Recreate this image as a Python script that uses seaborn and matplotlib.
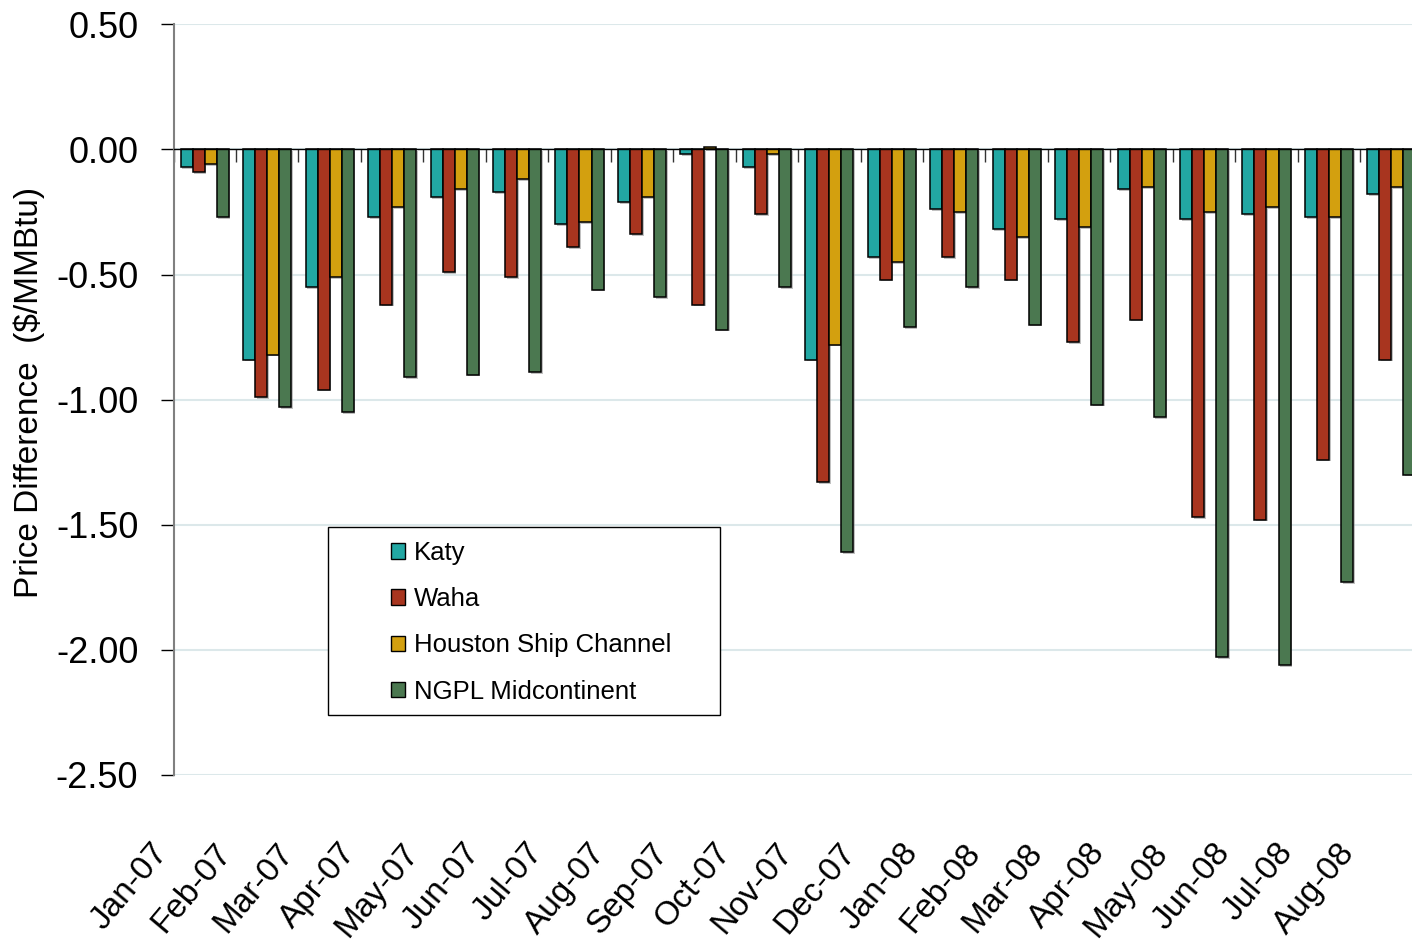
import matplotlib
matplotlib.use("Agg")
import matplotlib.pyplot as plt
import matplotlib.patheffects as pe
import matplotlib.transforms as mtransforms
from matplotlib.patches import Patch, Rectangle
import pandas as pd
import seaborn as sns

sns.set_style("white")
plt.rcParams['font.family'] = ['Liberation Sans', 'DejaVu Sans']
plt.rcParams['axes.unicode_minus'] = False
plt.rcParams['text.color'] = 'black'
plt.rcParams['axes.labelcolor'] = 'black'
plt.rcParams['xtick.labelcolor'] = 'black'
plt.rcParams['ytick.labelcolor'] = 'black'

# data ($/MMBtu, difference vs. Henry Hub)
months = ["Jan-07", "Feb-07", "Mar-07", "Apr-07", "May-07", "Jun-07", "Jul-07",
          "Aug-07", "Sep-07", "Oct-07", "Nov-07", "Dec-07", "Jan-08", "Feb-08",
          "Mar-08", "Apr-08", "May-08", "Jun-08", "Jul-08", "Aug-08"]
hubs = ["Katy", "Waha", "Houston Ship Channel", "NGPL Midcontinent"]

katy = [-0.07, -0.84, -0.55, -0.27, -0.19, -0.17, -0.30, -0.21, -0.02, -0.07,
        -0.84, -0.43, -0.24, -0.32, -0.28, -0.16, -0.28, -0.26, -0.27, -0.18]
waha = [-0.09, -0.99, -0.96, -0.62, -0.49, -0.51, -0.39, -0.34, -0.62, -0.26,
        -1.33, -0.52, -0.43, -0.52, -0.77, -0.68, -1.47, -1.48, -1.24, -0.84]
hsc = [-0.06, -0.82, -0.51, -0.23, -0.16, -0.12, -0.29, -0.19, 0.01, -0.02,
       -0.78, -0.45, -0.25, -0.35, -0.31, -0.15, -0.25, -0.23, -0.27, -0.15]
ngpl = [-0.27, -1.03, -1.05, -0.91, -0.90, -0.89, -0.56, -0.59, -0.72, -0.55,
        -1.61, -0.71, -0.55, -0.70, -1.02, -1.07, -2.03, -2.06, -1.73, -1.30]

yticks = [0.5, 0.0, -0.5, -1.0, -1.5, -2.0, -2.5]
ytick_labels = ["0.50", "0.00", "-0.50", "-1.00", "-1.50", "-2.00", "-2.50"]

colors = {"Katy": "#22a7a3", "Waha": "#a8351f",
          "Houston Ship Channel": "#d3a00f", "NGPL Midcontinent": "#4b7850"}

df = pd.DataFrame({
    "month": months * 4,
    "hub": [h for h in hubs for _ in months],
    "diff": katy + waha + hsc + ngpl,
})

fig = plt.figure(figsize=(14.12, 9.46), dpi=100)
ax = fig.add_axes([0.1229, 0.1808, 0.8771, 0.7935])

sns.barplot(data=df, x="month", y="diff", hue="hub", order=months, hue_order=hubs,
            palette=colors, width=0.77, saturation=1, edgecolor="black",
            linewidth=1.1, errorbar=None, legend=False, ax=ax)

shadow = [pe.SimplePatchShadow(offset=(1.2, -1.2), shadow_rgbFace="#999999", alpha=0.6),
          pe.Normal()]
for bar in ax.patches:
    bar.set_path_effects(shadow)

ax.set_xlim(-0.5, 19.33)
ax.set_ylim(-2.5, 0.5)

# y axis
ax.set_yticks(yticks, ytick_labels)
ax.tick_params(axis="y", direction="out", left=True, length=9.4, width=1,
               color="black", labelsize=26, pad=16)
ax.spines[["top", "right"]].set_visible(False)
ax.spines["left"].set_color("#808080")
ax.spines["left"].set_linewidth(1.5)
ax.yaxis.grid(True, color="#dce8ea", lw=1.5)
ax.set_axisbelow(True)
ax.set_ylabel("Price Difference  ($/MMBtu)", fontsize=24)
ax.yaxis.set_label_coords(-0.104, 0.51)

# x axis line sits at zero, ticks between months
ax.spines["bottom"].set_position(("data", 0))
ax.spines["bottom"].set_color("black")
ax.spines["bottom"].set_linewidth(1)
ax.set_xticks([i - 0.5 for i in range(len(months))])
ax.tick_params(axis="x", direction="out", bottom=True, length=9.4, width=1,
               color="#333333", labelbottom=False)
ax.set_xlabel("")

# month labels along the bottom of the plot area
sec = ax.secondary_xaxis("bottom")
sec.set_xticks(range(len(months)), months)
sec.tick_params(length=0, pad=45, labelsize=24)
sec.spines["bottom"].set_visible(False)
shift = mtransforms.ScaledTranslation(-0.54, 0, fig.dpi_scale_trans)
for lab in sec.get_xticklabels():
    lab.set_rotation(50)
    lab.set_ha("right")
    lab.set_va("top")
    lab.set_rotation_mode("anchor")
    lab.set_transform(lab.get_transform() + shift)

# legend with its own box
frame = Rectangle((0.1248, 0.0799), 0.3165, 0.2505, transform=ax.transAxes,
                  facecolor="white", edgecolor="black", lw=1, zorder=4)
ax.add_patch(frame)
handles = [Patch(facecolor=colors[h], edgecolor="black", lw=1, label=h) for h in hubs]
leg = ax.legend(handles=handles, loc="center left", bbox_to_anchor=(0.1756, 0.2032),
                frameon=False, fontsize=18.5, handlelength=0.56, handleheight=0.56,
                handletextpad=0.32, labelspacing=0.86, borderpad=0, borderaxespad=0)
leg.set_zorder(5)

fig.savefig("out.png", dpi=100)
